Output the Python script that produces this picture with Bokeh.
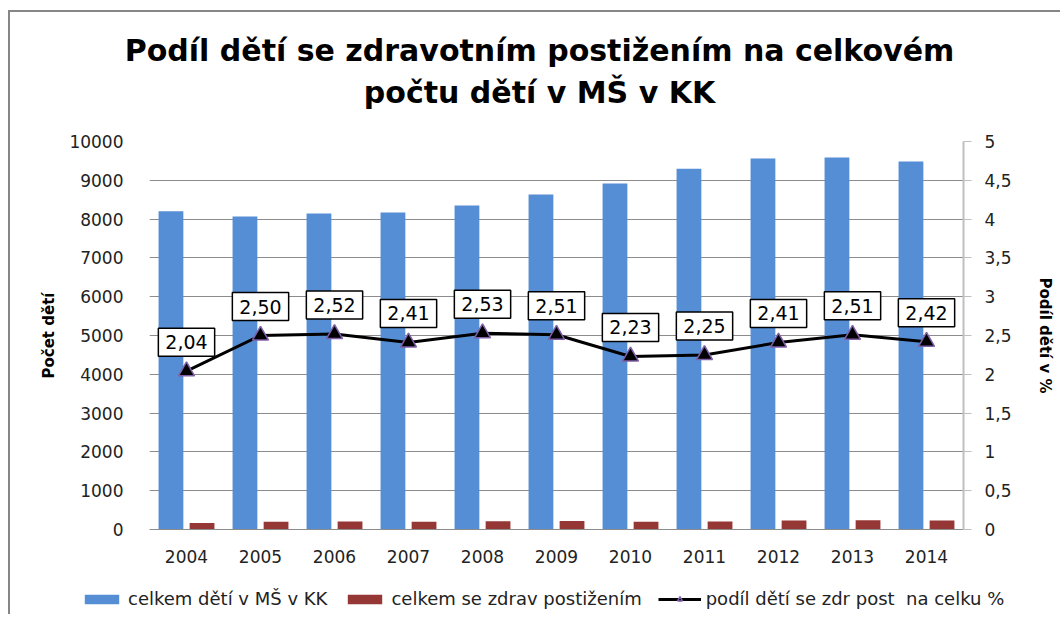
from bokeh.plotting import figure
from bokeh.layouts import column
from bokeh.models import (ColumnDataSource, LinearAxis, Range1d, FactorRange,
                          Legend, LegendItem, SingleIntervalTicker, CustomJSTickFormatter)
from bokeh.transform import dodge
from bokeh.core.properties import value
from bokeh.embed import file_html
from bokeh.resources import INLINE

years = ["2004", "2005", "2006", "2007", "2008", "2009", "2010", "2011", "2012", "2013", "2014"]
total_children = [8200, 8070, 8145, 8170, 8350, 8635, 8920, 9300, 9560, 9590, 9485]
disabled_children = [167, 202, 205, 197, 211, 217, 199, 209, 230, 241, 230]
share_pct = [2.04, 2.50, 2.52, 2.41, 2.53, 2.51, 2.23, 2.25, 2.41, 2.51, 2.42]
share_labels = ["2,04", "2,50", "2,52", "2,41", "2,53", "2,51", "2,23", "2,25", "2,41", "2,51", "2,42"]

title_lines = ["Podíl dětí se zdravotním postižením na celkovém", "počtu dětí v MŠ v KK"]
left_title = "Počet dětí"
right_title = "Podíl dětí v %"
legend_labels = ["celkem dětí v MŠ v KK", "celkem se zdrav postižením", "podíl dětí se zdr post  na celku %"]

BLUE = "#558ED5"
RED = "#953735"
GRID = "#8c8c8c"
MARK_LINE = "#7f5fa8"
FONT = "DejaVu Sans"
W = 1050

# ---------- title strip ----------
TH = 115
tf = figure(width=W, height=TH, x_range=Range1d(0, W), y_range=Range1d(0, TH),
            output_backend="svg", toolbar_location=None,
            x_axis_location=None, y_axis_location=None,
            min_border_left=0, min_border_right=0, min_border_top=0, min_border_bottom=0)
tf.frame_align = False
tf.grid.visible = False
tf.outline_line_color = None
tf.border_fill_color = "white"
tsrc = ColumnDataSource(dict(x=[529, 529], y=[TH - 38, TH - 80], t=title_lines))
tf.text(x="x", y="y", text="t", source=tsrc, text_align="center", text_baseline="alphabetic",
        text_font=value(FONT), text_font_style="bold", text_font_size="30px", text_color="black")

# ---------- main chart ----------
src = ColumnDataSource(dict(year=years, total=total_children, dis=disabled_children,
                            pct=share_pct, lab=share_labels))

p = figure(x_range=FactorRange(*years), y_range=Range1d(0, 10000),
           width=W, height=442, output_backend="svg", toolbar_location=None,
           min_border_left=139, min_border_right=97, min_border_top=14, min_border_bottom=40)
p.outline_line_color = None
p.background_fill_color = "white"
p.border_fill_color = "white"

p.extra_y_ranges = {"pct": Range1d(0, 5)}

b1 = p.vbar(x=dodge("year", -0.21, range=p.x_range), top="total", width=0.335, source=src,
            fill_color=BLUE, line_color=None)
b2 = p.vbar(x=dodge("year", 0.21, range=p.x_range), top="dis", width=0.335, source=src,
            fill_color=RED, line_color=None)
ln = p.line(x="year", y="pct", source=src, y_range_name="pct", line_color="black", line_width=3)
mk = p.scatter(x="year", y="pct", source=src, y_range_name="pct", marker="triangle", size=16,
               fill_color="black", line_color=MARK_LINE, line_width=1.5)

p.text(x="year", y="pct", text="lab", source=src, y_range_name="pct",
       y_offset=-29, text_align="center", text_baseline="middle",
       text_font=value(FONT), text_font_size="19px", text_color="black",
       background_fill_color="white", border_line_color="black", border_line_width=1.5,
       padding=7)

# left axis
ax = p.yaxis[0]
ax.ticker = SingleIntervalTicker(interval=1000)
ax.axis_line_color = None
ax.major_tick_line_color = None
ax.minor_tick_line_color = None
ax.major_label_text_font = FONT
ax.major_label_text_font_size = "17px"
ax.major_label_text_color = "#222222"
ax.major_label_standoff = 20
ax.axis_label = left_title
ax.axis_label_text_font = FONT
ax.axis_label_text_font_size = "15px"
ax.axis_label_text_font_style = "bold"
ax.axis_label_text_color = "black"
ax.axis_label_standoff = 8

# right axis
rax = LinearAxis(y_range_name="pct", ticker=SingleIntervalTicker(interval=0.5))
rax.formatter = CustomJSTickFormatter(code="return (Math.round(tick*10)/10).toString().replace('.', ',');")
rax.axis_line_color = "#bfbfbf"
rax.axis_line_width = 2
rax.major_tick_line_color = "#bfbfbf"
rax.major_tick_out = 8
rax.major_tick_in = 0
rax.minor_tick_line_color = None
rax.major_label_text_font = FONT
rax.major_label_text_font_size = "17px"
rax.major_label_text_color = "#222222"
rax.major_label_standoff = 13
rax.axis_label = right_title
rax.axis_label_text_font = FONT
rax.axis_label_text_font_size = "15px"
rax.axis_label_text_font_style = "bold"
rax.axis_label_text_color = "black"
rax.axis_label_standoff = 21
p.add_layout(rax, "right")

# x axis
xa = p.xaxis[0]
xa.axis_line_color = "#8c8c8c"
xa.major_tick_line_color = None
xa.minor_tick_line_color = None
xa.major_label_text_font = FONT
xa.major_label_text_font_size = "17px"
xa.major_label_text_color = "#222222"
xa.major_label_standoff = 14

p.xgrid.grid_line_color = None
p.ygrid.grid_line_color = GRID
p.ygrid.grid_line_width = 1
p.x_range.range_padding = 0
p.x_range.group_padding = 0

# ---------- legend strip ----------
lf = figure(width=W, height=45, x_range=Range1d(0, 1), y_range=Range1d(0, 1),
            output_backend="svg", toolbar_location=None,
            x_axis_location=None, y_axis_location=None,
            min_border_left=0, min_border_right=0, min_border_top=0, min_border_bottom=0)
lf.frame_align = False
lf.grid.visible = False
lf.outline_line_color = None
lf.border_fill_color = "white"
offscreen = ColumnDataSource(dict(x=[-10.0], y=[-10.0]))
lb1 = lf.vbar(x="x", top="y", width=0.1, source=offscreen, fill_color=BLUE, line_color=None)
lb2 = lf.vbar(x="x", top="y", width=0.1, source=offscreen, fill_color=RED, line_color=None)
lln = lf.line(x="x", y="y", source=offscreen, line_color="black", line_width=3)
lmk = lf.scatter(x="x", y="y", source=offscreen, marker="triangle", size=14,
                 fill_color="black", line_color=MARK_LINE, line_width=1.5)
legend = Legend(items=[LegendItem(label=legend_labels[0], renderers=[lb1]),
                       LegendItem(label=legend_labels[1], renderers=[lb2]),
                       LegendItem(label=legend_labels[2], renderers=[lln, lmk])],
                orientation="horizontal", location=(70, 5),
                label_text_font=FONT, label_text_font_size="18px", label_text_color="#222222",
                glyph_width=43, glyph_height=12, label_standoff=5, spacing=16,
                border_line_color=None, background_fill_alpha=0, padding=0, margin=0)
lf.add_layout(legend, "center")

layout = column(tf, p, lf, spacing=0)
layout.styles = {"border-left": "2px solid #868686", "border-top": "2px solid #868686",
                 "margin-left": "8px", "margin-top": "10px"}

open("out.html", "w").write(file_html(layout, INLINE))
